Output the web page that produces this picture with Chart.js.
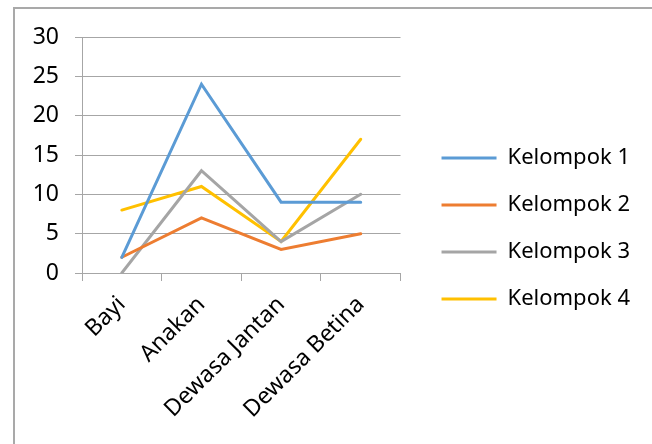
<!DOCTYPE html>
<html lang="id">
<head>
    <meta charset="UTF-8">
    <title>Kelompok</title>
    <script src="https://cdn.jsdelivr.net/npm/chart.js"></script>
    <style>
        body { margin: 0; background: #fff; }
        .frame {
            position: absolute; left: 13px; top: 7px; width: 700px; height: 500px;
            border-top: 2px solid #a9a9a9; border-left: 2px solid #a9a9a9;
        }
        #chart { position: absolute; left: 0; top: 0; }
    </style>
</head>
<body>
    <div class="frame"></div>
    <canvas id="chart" width="652" height="444"></canvas>
    <script>
        const categories = ['Bayi', 'Anakan', 'Dewasa Jantan', 'Dewasa Betina'];
        const kelompok1 = [2, 24, 9, 9];
        const kelompok2 = [2, 7, 3, 5];
        const kelompok3 = [0, 13, 4, 10];
        const kelompok4 = [8, 11, 4, 17];
        const yTicks = [0, 5, 10, 15, 20, 25, 30];

        const font = { family: 'Noto Sans', size: 23 };

        function line(label, data, color) {
            return {
                label: label,
                data: data,
                borderColor: color,
                backgroundColor: color,
                borderWidth: 3,
                borderCapStyle: 'round',
                pointRadius: 0,
                pointStyle: 'line',
                tension: 0
            };
        }

        // geser legenda sedikit ke kanan
        const legendShift = {
            id: 'legendShift',
            afterLayout(chart) {
                chart.legend.left += 16;
                chart.legend.right += 16;
            }
        };

        const ctx = document.getElementById('chart').getContext('2d');
        new Chart(ctx, {
            type: 'line',
            data: {
                labels: categories,
                datasets: [
                    line('Kelompok 1', kelompok1, '#5B9BD5'),
                    line('Kelompok 2', kelompok2, '#ED7D31'),
                    line('Kelompok 3', kelompok3, '#A5A5A5'),
                    line('Kelompok 4', kelompok4, '#FFC000')
                ]
            },
            options: {
                responsive: false,
                animation: false,
                layout: { padding: { top: 37, right: 28, bottom: 24, left: 0 } },
                plugins: {
                    tooltip: { enabled: false },
                    legend: {
                        position: 'right',
                        maxWidth: 300,
                        labels: {
                            usePointStyle: true,
                            pointStyleWidth: 55,
                            padding: 25,
                            color: '#000',
                            font: { family: 'Noto Sans', size: 22 }
                        }
                    }
                },
                scales: {
                    x: {
                        offset: true,
                        grid: { offset: true, drawOnChartArea: false, tickLength: 8, color: '#a6a6a6' },
                        border: { color: '#a6a6a6' },
                        ticks: { color: '#000', font: font, padding: 10, minRotation: 45, maxRotation: 45, autoSkip: false },
                        afterFit: s => { s.height = 147; }
                    },
                    y: {
                        min: 0,
                        max: 30,
                        afterBuildTicks: s => { s.ticks = yTicks.map(v => ({ value: v })); },
                        grid: { color: '#a6a6a6', tickLength: 7 },
                        border: { color: '#a6a6a6' },
                        ticks: { color: '#000', font: font, padding: 16 },
                        afterFit: s => { s.width = 82; }
                    }
                }
            },
            plugins: [legendShift]
        });
    </script>
</body>
</html>
